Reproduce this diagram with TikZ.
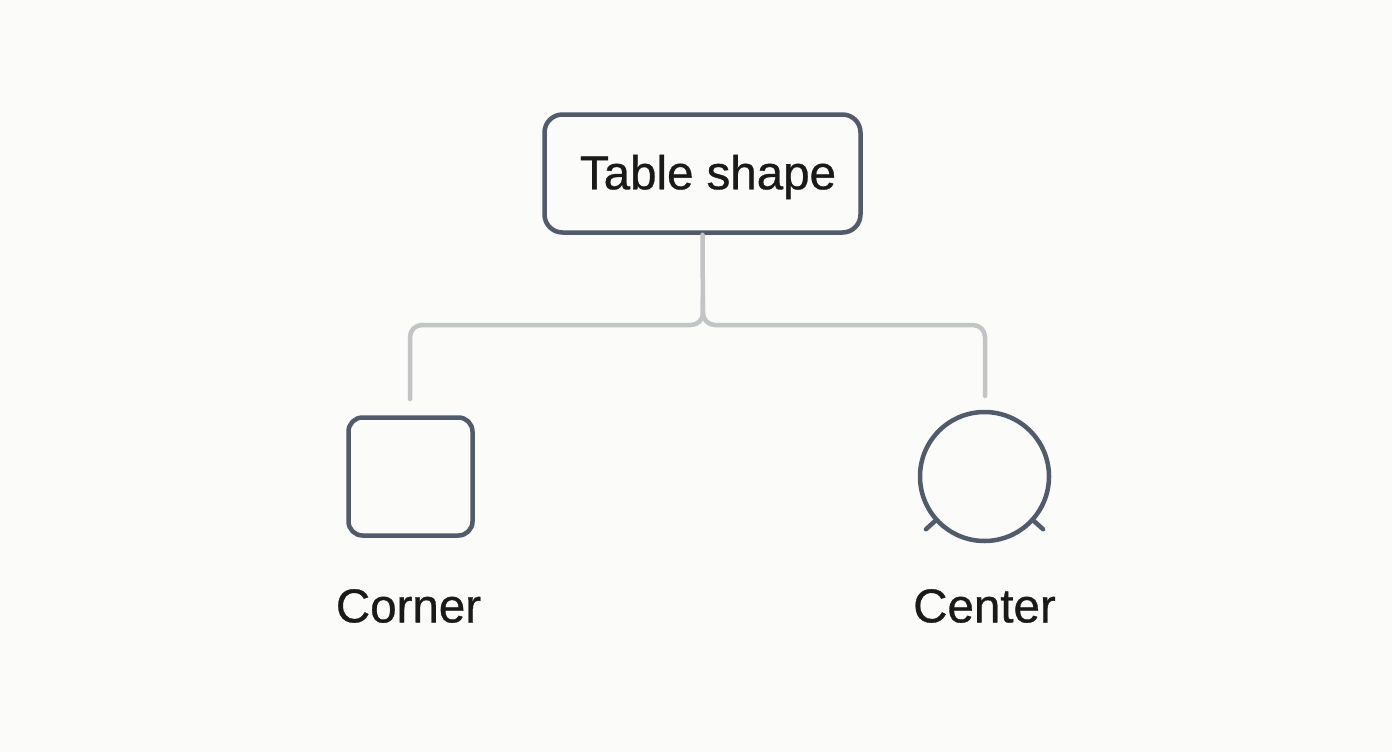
\documentclass[tikz,border=0pt]{standalone}
\usepackage{fontspec}
\usetikzlibrary{calc}
\setmainfont{Liberation Sans}
\newfontfamily\medfont{Liberation Sans}[AutoFakeBold=0.7]
\definecolor{bgc}{HTML}{FBFBF9}
\definecolor{edgec}{HTML}{525B6B}
\definecolor{linkc}{HTML}{C2C4C6}
\definecolor{txtc}{HTML}{1A1A1A}
\tikzset{
  shapebox/.style={draw=edgec, line width=4.5pt, fill=bgc, rounded corners=18pt},
  link/.style={draw=linkc, line width=4.5pt, rounded corners=12pt, line cap=round},
  lbl/.style={text=txtc, font=\medfont\bfseries\fontsize{47.5}{56}\selectfont, inner sep=0pt},
}
\begin{document}
\begin{tikzpicture}[x=1pt, y=-1pt]
\fill[bgc] (0,0) rectangle (1392,752);
\useasboundingbox (0,0) rectangle (1392,752);
\node[shapebox, minimum width=316pt, minimum height=118pt, inner sep=0pt] (top) at (702.5,173.5) {};
\node[lbl] (toptxt) at (708,177) {Table shape};
\node[shapebox, rounded corners=14pt, minimum width=124pt, minimum height=118pt] (sq) at (410.5,476.5) {};
\node[draw=edgec, line width=4.5pt, fill=bgc, circle, minimum size=129pt, inner sep=0pt] (ci) at (984.5,476.5) {};
\draw[edgec, line width=4.5pt, line cap=round] (ci.-138) -- ++(-138:12pt) coordinate (legl);
\draw[edgec, line width=4.5pt, line cap=round] (ci.-42) -- ++(-42:12pt) coordinate (legr);
\node[lbl] (lc) at (408.5,606) {Corner};
\node[lbl] (lr) at (984.5,606) {Center};
\coordinate (endl) at (410,399);
\coordinate (endr) at (985,396);
\coordinate (jn) at (703,325);
\draw[link] (top.south) -- (jn) -| (endl);
\draw[link] ($(top.south)!0.7!(jn)$) -- (jn) -| (endr);
\end{tikzpicture}
\end{document}
